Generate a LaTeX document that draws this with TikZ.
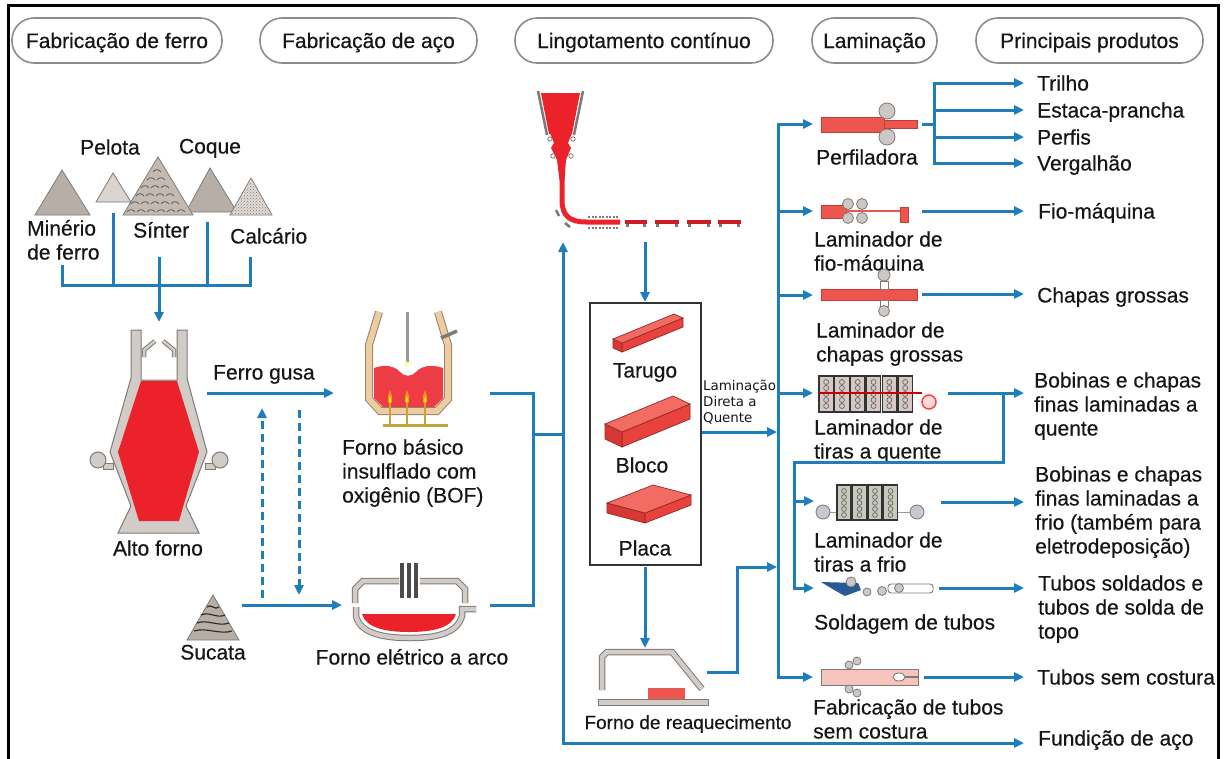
\documentclass[tikz,border=0pt]{standalone}
\usepackage{fontspec}
\setmainfont[FakeBold=0.4]{Liberation Sans}
\newfontfamily\ldqfont{DejaVu Sans}
\usetikzlibrary{arrows.meta,patterns}
\definecolor{flowblue}{RGB}{30,126,188}
\definecolor{hotred}{RGB}{236,34,42}
\definecolor{millred}{RGB}{236,86,78}
\definecolor{milledge}{RGB}{196,60,52}
\definecolor{eqgray}{RGB}{210,204,200}
\definecolor{eqline}{RGB}{128,122,118}
\definecolor{pilegray}{RGB}{184,174,168}
\definecolor{pilelight}{RGB}{218,212,208}
\definecolor{sintercol}{RGB}{196,186,178}
\definecolor{calcol}{RGB}{226,220,216}
\definecolor{shelltan}{RGB}{236,204,160}
\definecolor{shelledge}{RGB}{150,130,110}
\definecolor{flame}{RGB}{245,150,30}
\definecolor{gold}{RGB}{200,160,60}
\definecolor{txt}{RGB}{22,22,22}
\definecolor{pillgray}{RGB}{140,140,140}
\definecolor{slabtop}{RGB}{242,108,100}
\definecolor{slabfront}{RGB}{232,66,62}
\definecolor{slabend}{RGB}{214,56,52}
\definecolor{slabedge}{RGB}{150,40,36}
\definecolor{standfill}{RGB}{214,200,196}
\definecolor{coldfill}{RGB}{200,202,190}
\definecolor{rollfill}{RGB}{204,200,198}
\definecolor{pipepink}{RGB}{246,196,188}
\definecolor{weldblue}{RGB}{40,90,150}
\newcommand\lbfont{\fontsize{21}{24}\selectfont}
\newcommand\mlines[1]{\begin{tabular}[t]{@{}l@{}}#1\end{tabular}}
\begin{document}
\begin{tikzpicture}[x=1pt,y=-1pt,line join=miter,
  flow/.style={draw=flowblue,line width=3pt,-{Triangle[length=10pt,width=9pt]}},
  bflow/.style={draw=flowblue,line width=3pt,{Triangle[length=10pt,width=9pt]}-{Triangle[length=10pt,width=9pt]}},
  pipe/.style={draw=flowblue,line width=3pt},
  dflow/.style={flow,dash pattern=on 8pt off 5pt},
  lbl/.style={font=\lbfont,text=txt,inner sep=0pt,anchor=base west},
  lblc/.style={lbl,anchor=base},
  pill/.style={draw=pillgray,line width=1.6pt,fill=white,rounded corners=22pt,minimum height=45pt,text height=15pt,text depth=0pt,inner sep=0pt,font=\lbfont,text=txt},
  eq/.style={fill=eqgray,draw=eqline,line width=1pt},
  pile/.style={fill=pilegray,draw=eqline,line width=0.8pt},
  slabT/.style={fill=slabtop,draw=slabedge,line width=0.7pt},
  slabF/.style={fill=slabfront,draw=slabedge,line width=0.7pt},
  slabE/.style={fill=slabend,draw=slabedge,line width=0.7pt},
  roll/.style={fill=rollfill,draw=eqline,line width=0.8pt},
  mill/.style={fill=millred,draw=milledge,line width=0.8pt},
  band/.style={draw=eqline,line width=1pt,double=eqgray,double distance=4.5pt}
]
\useasboundingbox (0,0) rectangle (1224,758);
\fill[white] (0,0) rectangle (1224,758);
\draw[black,line width=3pt] (8,762) -- (8,5) -- (1218,5) -- (1218,762);

% ---------- headers
\node[pill,minimum width=210pt] (hIron) at (117,40.5) {Fabricação de ferro};
\node[pill,minimum width=217pt] (hSteel) at (368.5,40.5) {Fabricação de aço};
\node[pill,minimum width=258pt] (hCast) at (644,40.5) {Lingotamento contínuo};
\node[pill,minimum width=125pt] (hRoll) at (874.5,40.5) {Laminação};
\node[pill,minimum width=227pt] (hProd) at (1089.5,40.5) {Principais produtos};

% ---------- raw material piles
\filldraw[pile] (35,215) -- (62,170) -- (90,215) -- cycle;
\filldraw[pile,fill=pilelight] (96,202) -- (113,173) -- (131,202) -- cycle;
\filldraw[pile] (186,212) -- (210,168) -- (237,212) -- cycle;
\filldraw[pile,fill=sintercol] (123,215) -- (158,157) -- (193,215) -- cycle;
\foreach \yy/\xs in {172/{153},180/{147,157},188/{141,151,161},196/{136,146,156,166},204/{131,141,151,161,171},212/{127,137,147,157,167,177}} {
  \foreach \xx in \xs {\draw[black!60,line width=0.9pt] (\xx,\yy) .. controls (\xx+2,\yy-3) and (\xx+6,\yy-3) .. (\xx+8,\yy);}
}
\filldraw[pile,fill=calcol] (230,215) -- (251,178) -- (272,215) -- cycle;
\fill[pattern=crosshatch dots,pattern color=eqline] (232,214) -- (251,181) -- (270,214) -- cycle;

\node[lblc] (tPelota) at (110,154.5) {Pelota};
\node[lblc] (tCoque) at (210,153.5) {Coque};
\node[lbl] (tMinerio) at (27,235.5) {\mlines{Minério\\de ferro}};
\node[lbl] (tSinter) at (133,237.5) {Sínter};
\node[lbl] (tCalc) at (230,243.5) {Calcário};

\coordinate (cMin) at (62,265); \coordinate (cMinB) at (62,285);
\coordinate (cPel) at (113,213); \coordinate (cPelB) at (113,285);
\coordinate (cSin) at (159,257);
\coordinate (cCoq) at (207,222); \coordinate (cCoqB) at (207,285);
\coordinate (cCal) at (250,257); \coordinate (cCalB) at (250,285);
\coordinate (bfTop) at (159,322);
\draw[pipe] (cMin) -- (cMinB) -- (cCalB) -- (cCal);
\draw[pipe] (cPel) -- (cPelB);
\draw[pipe] (cCoq) -- (cCoqB);
\draw[flow] (cSin) -- (bfTop);

% ---------- blast furnace
\filldraw[eq] (103,463) rectangle (113,469);
\filldraw[eq] (205,463) rectangle (215,469);
\filldraw[eq] (98,460) circle (8pt);
\filldraw[eq] (220,460) circle (8pt);
\filldraw[eq] (131,330) -- (141,330) -- (141,380) -- (177,380) -- (177,330) -- (187,330) -- (187,378) -- (207,452) -- (186,506) -- (199,533) -- (118,533) -- (131,506) -- (110,452) -- (131,378) -- cycle;
\fill[hotred] (141,381) -- (177,381) -- (199,452) -- (179,521) -- (139,521) -- (118,452) -- cycle;
\draw[eqline,line width=4.5pt] (144,357) -- (144,350) -- (155,341);
\draw[eqgray,line width=2.5pt] (144,357) -- (144,350) -- (155,341);
\draw[eqline,line width=4.5pt] (174,357) -- (174,350) -- (163,341);
\draw[eqgray,line width=2.5pt] (174,357) -- (174,350) -- (163,341);
\node[lblc] (tAlto) at (158,555.5) {Alto forno};

% ---------- iron to steel
\coordinate (bfOut) at (207,393); \coordinate (bofIn) at (334,393);
\draw[flow] (bfOut) -- (bofIn);
\node[lbl] (tGusa) at (213,379.5) {Ferro gusa};
\coordinate (dA1) at (262,598); \coordinate (dA2) at (262,408);
\coordinate (dB1) at (299,410); \coordinate (dB2) at (299,595);
\draw[dflow] (dA1) -- (dA2);
\draw[dflow] (dB1) -- (dB2);

% ---------- scrap
\filldraw[pile] (187,640) -- (213,595) -- (239,640) -- cycle;
\draw[black!85,line width=1.1pt] (207,607) .. controls (211,603) and (215,611) .. (219,607);
\draw[black!85,line width=1.1pt] (201,615) .. controls (209,611) and (217,619) .. (225,615);
\draw[black!85,line width=1.1pt] (197,623) .. controls (207,619) and (219,627) .. (229,623);
\draw[black!85,line width=1.1pt] (194,631) .. controls (206,627) and (220,635) .. (232,631);
\node[lblc] (tSucata) at (213,659.5) {Sucata};
\coordinate (scOut) at (242,605); \coordinate (eafIn) at (342,605);
\draw[flow] (scOut) -- (eafIn);

% ---------- BOF
\draw[draw=shelledge,line width=1pt,double=shelltan,double distance=6pt] (379,312) -- (369,345) -- (369,399) -- (380,411) -- (437,411) -- (448,399) -- (448,345) -- (438,312);
\fill[hotred!88!white] (374,368) .. controls (385,364) and (395,366) .. (400,372) .. controls (404,377) and (412,377) .. (416,372) .. controls (421,366) and (432,364) .. (443,368) -- (443,398) -- (434,407) -- (383,407) -- (374,398) -- cycle;
\draw[black!40,line width=3pt] (407,312) -- (407,362);
\fill[yellow!40] (407,364) circle (2.5pt);
\foreach \fx in {390,407,425} {
  \draw[gold,line width=2pt] (\fx,404) -- (\fx,425);
  \fill[flame] (\fx,405) .. controls (\fx-4,401) and (\fx-2,396) .. (\fx,390) .. controls (\fx+2,396) and (\fx+4,401) .. (\fx,405);
  \fill[yellow] (\fx,404) .. controls (\fx-2,402) and (\fx-1,399) .. (\fx,396) .. controls (\fx+1,399) and (\fx+2,402) .. (\fx,404);
}
\draw[gold,line width=3pt] (383,425) -- (448,425);
\draw[eqline,line width=3.5pt] (441,338) -- (457,331);
\node[lbl] (tBOF) at (342,454.5) {\mlines{Forno básico\\insulflado com\\oxigênio (BOF)}};

% ---------- EAF
\draw[band] (355,603) -- (355,589) -- (363,581) -- (399,581);
\draw[band] (420,581) -- (457,581) -- (465,589) -- (465,603);
\foreach \ex in {402,409,416} \draw[black!70,line width=3.2pt] (\ex,563) -- (\ex,598);
\draw[band] (356,607) -- (356,616) .. controls (360,634) and (385,638) .. (410,638) .. controls (435,638) and (457,634) .. (462,616) -- (462,609) -- (476,609);
\fill[hotred] (362,614) -- (456,614) .. controls (452,628) and (432,632) .. (409,632) .. controls (386,632) and (366,628) .. (362,614) -- cycle;
\node[lblc] (tEAF) at (412,664.5) {Forno elétrico a arco};

% ---------- furnaces to casting
\coordinate (bofOut) at (490,393); \coordinate (eafOut) at (490,605);
\coordinate (jA) at (533,393); \coordinate (jB) at (533,605); \coordinate (jM) at (533,434);
\coordinate (tkM) at (563,434); \coordinate (tkTop) at (563,242); \coordinate (tkBot) at (563,743);
\coordinate (fundArr) at (1024,743);
\draw[pipe] (bofOut) -- (jA) -- (jB) -- (eafOut);
\draw[pipe] (jM) -- (tkM);
\draw[bflow] (tkTop) -- (tkBot) -- (fundArr);
\node[lbl] (tFund) at (1038,745.5) {Fundição de aço};

% ---------- continuous caster
\fill[hotred] (541,93) -- (580,93) -- (572,134) -- (549,134) -- cycle;
\draw[eqline,line width=2.5pt] (538,91) -- (547,135);
\draw[eqline,line width=2.5pt] (583,91) -- (574,135);
\fill[hotred] (550,133) -- (572,133) -- (568,143) -- (571,148) -- (566,160) -- (564.5,180) -- (559.5,180) -- (557,160) -- (551,148) -- (554,143) -- cycle;
\foreach \mx/\my in {550/139,573/139,553/156,571/156} \filldraw[fill=white,draw=eqline,line width=0.8pt] (\mx,\my) circle (2.2pt);
\draw[hotred,line width=5pt] (562,176) -- (562,200) .. controls (562,216) and (570,222) .. (586,222) -- (620,222);
\draw[eqline,line width=2.5pt] (556,210) -- (559,216);
\draw[eqline,line width=2.5pt] (565,223) -- (570,227);
\draw[eqline,line width=2pt,dash pattern=on 2pt off 1.5pt] (588,217) -- (618,217);
\draw[eqline,line width=2pt,dash pattern=on 2pt off 1.5pt] (588,227.5) -- (618,227.5);
\foreach \pa/\pb in {625/647,655/679,687/711,718/741} {
  \draw[hotred!85!black,line width=4pt] (\pa,222) -- (\pb,222);
  \fill[eqline] (\pa+1,224) rectangle (\pa+4,227);
  \fill[eqline] (\pb-4,224) rectangle (\pb-1,227);
}
\coordinate (castOut) at (645,242); \coordinate (boxIn) at (645,302);
\draw[flow] (castOut) -- (boxIn);

% ---------- semi-finished box
\node[draw=black!80,line width=1.2pt,fill=white,minimum width=111pt,minimum height=262pt,inner sep=0pt] (semiBox) at (645.5,434) {};
\filldraw[slabF] (622,352) -- (683,327) -- (683,318) -- (622,343) -- cycle;
\filldraw[slabE] (622,352) -- (613,348) -- (613,339) -- (622,343) -- cycle;
\filldraw[slabT] (622,343) -- (683,318) -- (674,314) -- (613,339) -- cycle;
\node[lblc] (tTarugo) at (645,377.5) {Tarugo};
\filldraw[slabF] (622,447) -- (690,419) -- (690,404) -- (622,432) -- cycle;
\filldraw[slabE] (622,447) -- (605,439) -- (605,424) -- (622,432) -- cycle;
\filldraw[slabT] (622,432) -- (690,404) -- (673,396) -- (605,424) -- cycle;
\node[lblc] (tBloco) at (642,472.5) {Bloco};
\filldraw[slabF] (645,523) -- (691,505) -- (691,495) -- (645,513) -- cycle;
\filldraw[slabE] (645,523) -- (607,513) -- (607,503) -- (645,513) -- cycle;
\filldraw[slabT] (645,513) -- (691,495) -- (653,485) -- (607,503) -- cycle;
\node[lblc] (tPlaca) at (645,555.5) {Placa};
\node[font={\ldqfont\fontsize{13.4}{16}\selectfont},text=txt,inner sep=0pt,anchor=base west] (tLDQ) at (703,390) {\mlines{Laminação\\Direta a\\Quente}};
\coordinate (boxOut) at (702,432); \coordinate (lamLDQ) at (777,432);
\draw[flow] (boxOut) -- (lamLDQ);
\coordinate (boxDown) at (645,567); \coordinate (rhIn) at (645,648);
\draw[flow] (boxDown) -- (rhIn);

% ---------- reheating furnace
\draw[band] (602,690) -- (602,657) -- (607,652) -- (672,652) -- (702,689);
\filldraw[eq] (598,699) rectangle (708,705);
\fill[millred] (648,688) rectangle (685,699);
\node[lblc,font=\fontsize{19}{22}\selectfont] (tReheat) at (688,729) {Forno de reaquecimento};
\coordinate (rhOut) at (707,672); \coordinate (rhA) at (737,672); \coordinate (rhB) at (737,567); \coordinate (lamRH) at (777,567);
\draw[flow] (rhOut) -- (rhA) -- (rhB) -- (lamRH);

% ---------- rolling trunk
\coordinate (lamTop) at (778,124); \coordinate (lamBot) at (778,677);
\coordinate (perfIn) at (813,124); \coordinate (semIn) at (813,677);
\draw[bflow] (perfIn) -- (lamTop) -- (lamBot) -- (semIn);
\coordinate (lamFio) at (778,211); \coordinate (fioIn) at (813,211);
\coordinate (lamCh) at (778,295); \coordinate (chIn) at (813,295);
\coordinate (lamTq) at (778,393); \coordinate (tqIn) at (813,393);
\draw[flow] (lamFio) -- (fioIn);
\draw[flow] (lamCh) -- (chIn);
\draw[flow] (lamTq) -- (tqIn);

% ---------- Perfiladora
\filldraw[mill] (821,117) rectangle (884,132);
\filldraw[mill] (884,120) rectangle (917,128);
\filldraw[roll] (887,111) circle (8pt);
\filldraw[roll] (887,137) circle (8pt);
\node[lbl] (tPerf) at (816,164.5) {Perfiladora};
\coordinate (perfOut) at (922,124); \coordinate (perfJ) at (934,124);
\coordinate (pT) at (934,83); \coordinate (pV) at (934,163);
\coordinate (pE) at (934,110); \coordinate (pP) at (934,137);
\coordinate (aT) at (1024,83); \coordinate (aE) at (1024,110); \coordinate (aP) at (1024,137); \coordinate (aV) at (1024,163);
\draw[pipe] (perfOut) -- (perfJ);
\draw[bflow] (aT) -- (pT) -- (pV) -- (aV);
\draw[flow] (pE) -- (aE);
\draw[flow] (pP) -- (aP);
\node[lbl] (tTrilho) at (1037,90.5) {Trilho};
\node[lbl] (tEstaca) at (1037,117.5) {Estaca-prancha};
\node[lbl] (tPerfis) at (1037,144.5) {Perfis};
\node[lbl] (tVerg) at (1037,170.5) {Vergalhão};

% ---------- wire rod mill
\filldraw[mill] (821,205) rectangle (846,218);
\draw[millred,line width=1.2pt] (846,211) -- (903,211);
\foreach \rx in {848,862} \foreach \ry in {204,218} \filldraw[roll] (\rx,\ry) circle (5.5pt);
\filldraw[mill] (900,207) rectangle (908,222);
\node[lbl] (tFioM) at (814,246.5) {\mlines{Laminador de\\fio-máquina}};
\coordinate (fioOut) at (922,211); \coordinate (aFio) at (1024,211);
\draw[flow] (fioOut) -- (aFio);
\node[lbl] (tFio) at (1038,218.5) {Fio-máquina};

% ---------- plate mill
\filldraw[mill] (821,289) rectangle (917,300);
\filldraw[fill=white,draw=eqline,line width=0.8pt] (880,281) rectangle (888,289);
\filldraw[roll] (884,275) circle (6pt);
\filldraw[fill=white,draw=eqline,line width=0.8pt] (880,300) rectangle (888,306);
\filldraw[roll] (884,311) circle (5.5pt);
\node[lbl] (tChM) at (816,337.5) {\mlines{Laminador de\\chapas grossas}};
\coordinate (chOut) at (922,294); \coordinate (aCh) at (1024,294);
\draw[flow] (chOut) -- (aCh);
\node[lbl] (tCh) at (1037,302.5) {Chapas grossas};

% ---------- hot strip mill
\foreach \i in {0,...,5} {
  \pgfmathsetmacro\xa{819+15.8*\i}
  \filldraw[fill=standfill,draw=black!80,line width=1.2pt] (\xa,376) rectangle (\xa+14.3,412);
  \foreach \ry in {382,388,394,400,406} \draw[black!60,line width=0.7pt] (\xa+7.15,\ry) circle (2.5pt);
}
\draw[red!80!black,line width=1.2pt] (819,393) -- (922,393);
\filldraw[fill=pink!60,draw=red!75,line width=1.5pt] (929,402) circle (7pt);
\node[lbl] (tTqM) at (814,434.5) {\mlines{Laminador de\\tiras a quente}};
\coordinate (tqOut) at (948,393); \coordinate (aTq) at (1024,393);
\coordinate (tqJ) at (1003,393); \coordinate (tqJ2) at (1003,462);
\coordinate (t2Top) at (794,462); \coordinate (t2Bot) at (794,588); \coordinate (soldIn) at (814,588);
\coordinate (t2Fr) at (794,501); \coordinate (frIn) at (814,501);
\draw[flow] (tqOut) -- (aTq);
\draw[flow] (tqJ) -- (tqJ2) -- (t2Top) -- (t2Bot) -- (soldIn);
\draw[flow] (t2Fr) -- (frIn);
\node[lbl] (tTq) at (1034,387.5) {\mlines{Bobinas e chapas\\finas laminadas a\\quente}};

% ---------- cold strip mill
\draw[black!40,line width=1pt] (823,512) -- (917,512);
\foreach \i in {0,...,3} {
  \pgfmathsetmacro\xa{837+15.5*\i}
  \filldraw[fill=coldfill,draw=black!80,line width=1.2pt] (\xa,485) rectangle (\xa+14,520);
  \foreach \ry in {491,497,503,509,515} \draw[black!60,line width=0.7pt] (\xa+7,\ry) circle (2.4pt);
}
\filldraw[fill=blue!8!gray!40,draw=gray,line width=0.9pt] (823,512) circle (7pt);
\filldraw[fill=blue!8!gray!40,draw=gray,line width=0.9pt] (917,512) circle (7pt);
\node[lbl] (tFrM) at (814,547.5) {\mlines{Laminador de\\tiras a frio}};
\coordinate (frOut) at (941,502); \coordinate (aFr) at (1024,502);
\draw[flow] (frOut) -- (aFr);
\node[lbl] (tFr) at (1035,481.5) {\mlines{Bobinas e chapas\\finas laminadas a\\frio (também para\\eletrodeposição)}};

% ---------- pipe welding
\fill[weldblue] (821,582) -- (858,583) -- (861,590) -- (845,596) -- (836,591) -- cycle;
\filldraw[fill=white,draw=eqline,line width=0.9pt,rounded corners=3pt] (888,584) rectangle (933,593);
\filldraw[roll] (851,582) circle (5pt);
\filldraw[roll] (867,592) circle (4pt);
\filldraw[roll] (882,591) circle (4.5pt);
\filldraw[roll] (899,588) circle (4.5pt);
\node[lbl] (tSold) at (814,629.5) {Soldagem de tubos};
\coordinate (soldOut) at (939,588); \coordinate (aSold) at (1024,588);
\draw[flow] (soldOut) -- (aSold);
\node[lbl] (tTubS) at (1038,590.5) {\mlines{Tubos soldados e\\tubos de solda de\\topo}};

% ---------- seamless pipe
\filldraw[fill=pipepink,draw=eqline,line width=0.8pt] (821,669) rectangle (918,685);
\filldraw[roll] (849,665) circle (4pt);
\filldraw[roll] (857,661) circle (4pt);
\filldraw[roll] (849,689) circle (4pt);
\filldraw[roll] (857,693) circle (4pt);
\draw[eqline,line width=1.6pt] (905,677) -- (918,677);
\filldraw[fill=white,draw=eqline,line width=0.9pt] (899,677) ellipse (6pt and 4pt);
\node[lbl] (tSemM) at (813,714.5) {\mlines{Fabricação de tubos\\sem costura}};
\coordinate (semOut) at (924,677); \coordinate (aSem) at (1024,677);
\draw[flow] (semOut) -- (aSem);
\node[lbl] (tSem) at (1037,684.5) {Tubos sem costura};
\end{tikzpicture}
\end{document}
